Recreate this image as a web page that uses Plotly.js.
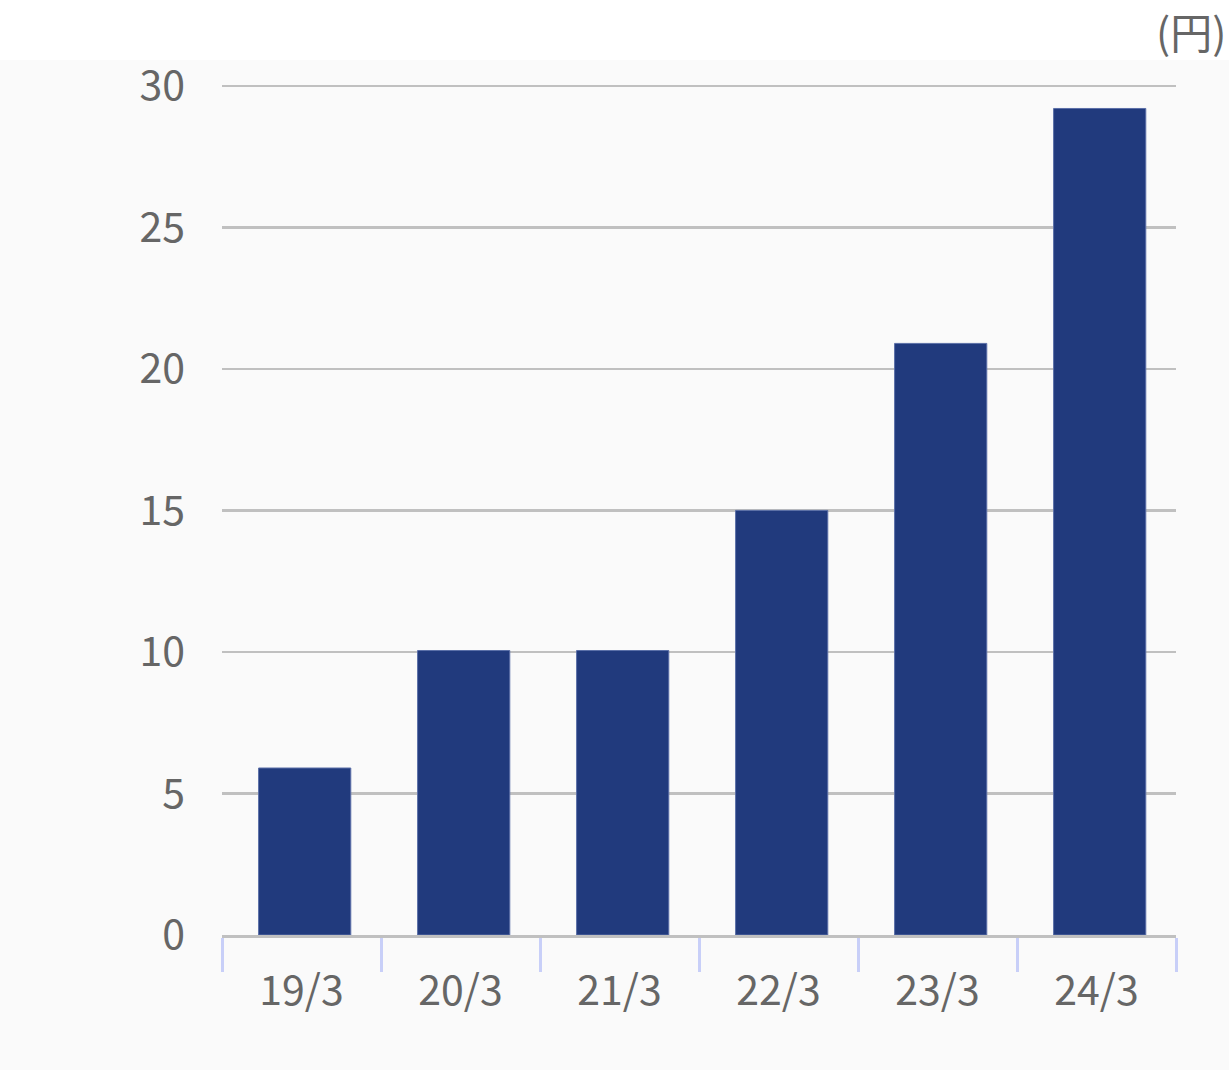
<!DOCTYPE html>
<html>
<head>
<meta charset="utf-8">
<script src="https://cdn.plot.ly/plotly-3.0.1.min.js"></script>
<style>
html,body{margin:0;padding:0;background:#ffffff;}
#chart{width:1232px;height:1070px;}
</style>
</head>
<body>
<div id="chart"></div>
<script>
var categories = ["19/3", "20/3", "21/3", "22/3", "23/3", "24/3"];
var values = [5.9, 10.05, 10.05, 15, 20.9, 29.2];
var yTicks = [0, 5, 10, 15, 20, 25, 30];
var unitLabel = "(円)";

var font = "'Noto Sans CJK JP', 'Noto Sans', sans-serif";

var trace = {
  type: "bar",
  x: categories,
  y: values,
  width: 0.58,
  offset: -0.27,
  marker: {color: "#213a7d", line: {color: "#5b6fa8", width: 1}},
  hoverinfo: "x+y"
};

var layout = {
  width: 1232,
  height: 1070,
  margin: {l: 222, r: 56, t: 83, b: 135},
  paper_bgcolor: "#ffffff",
  plot_bgcolor: "#fafafa",
  showlegend: false,
  font: {family: font, color: "#666666", size: 40},
  xaxis: {
    type: "category",
    tickson: "boundaries",
    ticks: "outside",
    ticklen: 34,
    tickwidth: 3,
    tickcolor: "#c8cff8",
    showline: true,
    linecolor: "#c0c0c0",
    linewidth: 3,
    showgrid: false,
    ticklabelstandoff: 18,
    tickfont: {family: font, size: 41, color: "#666666"},
    fixedrange: true
  },
  yaxis: {
    range: [0, 30.1],
    tickvals: yTicks,
    ticktext: yTicks.map(String),
    showgrid: true,
    gridcolor: "#c0c0c0",
    gridwidth: 2.5,
    zeroline: false,
    showline: false,
    ticks: "",
    ticklabelstandoff: 36,
    tickfont: {family: font, size: 41, color: "#666666"},
    fixedrange: true
  },
  shapes: [{
    type: "rect", xref: "paper", yref: "paper", layer: "below",
    x0: -222/952, x1: 1 + 53/952, y0: -135/852, y1: 1 + 23/852,
    fillcolor: "#fafafa", line: {width: 0}
  }],
  annotations: [{
    text: unitLabel, xref: "paper", yref: "paper",
    x: 1 + 52/952, y: 1 + 83/852, xanchor: "right", yanchor: "top",
    yshift: 2,
    showarrow: false, font: {family: font, size: 42, color: "#666666"}
  }]
};

Plotly.newPlot("chart", [trace], layout, {displayModeBar: false, staticPlot: true});
</script>
</body>
</html>
